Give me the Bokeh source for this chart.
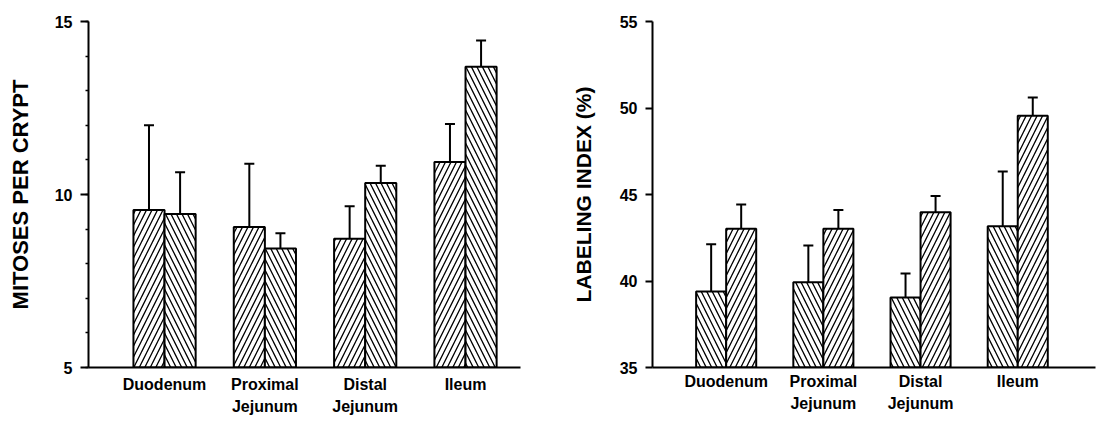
from bokeh.plotting import figure
from bokeh.models import (Range1d, FixedTicker, ColumnDataSource, Whisker, TeeHead,
                          SingleIntervalTicker)
from bokeh.layouts import row
from bokeh.embed import file_html
from bokeh.resources import INLINE

# ---- data ----
categories = ["Duodenum", "Proximal\nJejunum", "Distal\nJejunum", "Ileum"]

mitoses_a = [9.55, 9.06, 8.72, 10.94]
mitoses_a_err = [2.45, 1.83, 0.94, 1.10]
mitoses_b = [9.44, 8.44, 10.33, 13.69]
mitoses_b_err = [1.20, 0.44, 0.50, 0.76]

labeling_a = [39.40, 39.93, 39.05, 43.17]
labeling_a_err = [2.72, 2.12, 1.39, 3.16]
labeling_b = [43.02, 43.02, 43.97, 49.55]
labeling_b_err = [1.40, 1.09, 0.94, 1.05]

left_ticks = [5, 10, 15]
right_ticks = [35, 40, 45, 50, 55]

FONT = "Liberation Sans"


def make_panel(width, height, x_start, x_end, y_start, y_end, border_left, border_top,
               border_bottom, border_right, bar_w, series, hatches, ylabel, major_ticks,
               minor_step, tick_out, ylabel_standoff, ylabel_size, xlabel_standoff):
    p = figure(width=width, height=height, output_backend="svg", toolbar_location=None,
               x_range=Range1d(x_start, x_end), y_range=Range1d(y_start, y_end),
               min_border_left=border_left, min_border_top=border_top,
               min_border_bottom=border_bottom, min_border_right=border_right)
    p.outline_line_color = None
    p.xgrid.visible = False
    p.ygrid.visible = False
    p.background_fill_color = "white"
    p.border_fill_color = "white"

    xs = list(range(1, len(categories) + 1))
    offsets = [-bar_w / 2, bar_w / 2]
    for (vals, errs), hatch, off in zip(series, hatches, offsets):
        src = ColumnDataSource(dict(
            x=[x + off for x in xs],
            top=vals,
            upper=[v + e for v, e in zip(vals, errs)],
            lower=[v - e for v, e in zip(vals, errs)],
        ))
        p.vbar(x="x", top="top", bottom=y_start, width=bar_w, source=src,
               fill_color="white", line_color="black", line_width=2,
               hatch_pattern=hatch, hatch_color="black", hatch_scale=11, hatch_weight=1.3)
        w = Whisker(source=src, base="x", upper="upper", lower="lower",
                    line_color="black", line_width=2,
                    upper_head=TeeHead(size=10, line_width=2, line_color="black"),
                    lower_head=TeeHead(size=10, line_width=2, line_color="black"))
        p.add_layout(w)

    # x axis
    xa = p.xaxis[0]
    xa.ticker = FixedTicker(ticks=xs)
    xa.major_label_overrides = {x: c for x, c in zip(xs, categories)}
    xa.major_tick_line_color = None
    xa.major_tick_out = 0
    xa.major_tick_in = 0
    xa.minor_tick_line_color = None
    xa.minor_tick_out = 0
    xa.axis_line_width = 2
    xa.axis_line_color = "black"
    xa.major_label_text_font = FONT
    xa.major_label_text_font_style = "bold"
    xa.major_label_text_font_size = "16px"
    xa.major_label_text_color = "black"
    xa.major_label_text_line_height = 1.35
    xa.major_label_standoff = xlabel_standoff

    # y axis
    ya = p.yaxis[0]
    if minor_step:
        ya.ticker = SingleIntervalTicker(interval=5, num_minor_ticks=5)
        ya.minor_tick_out = 3
        ya.minor_tick_in = 0
        ya.minor_tick_line_width = 1.5
        ya.minor_tick_line_color = "black"
    else:
        ya.ticker = FixedTicker(ticks=major_ticks)
        ya.minor_tick_line_color = None
    ya.major_tick_out = tick_out
    ya.major_tick_in = 0
    ya.major_tick_line_width = 2
    ya.axis_line_width = 2
    ya.axis_line_color = "black"
    ya.major_label_text_font = FONT
    ya.major_label_text_font_style = "bold"
    ya.major_label_text_font_size = "16px"
    ya.major_label_text_color = "black"
    ya.major_label_standoff = 8
    ya.axis_label = ylabel
    ya.axis_label_text_font = FONT
    ya.axis_label_text_font_style = "bold"
    ya.axis_label_text_font_size = ylabel_size
    ya.axis_label_text_color = "black"
    ya.axis_label_standoff = ylabel_standoff
    return p


left = make_panel(width=530, height=424, x_start=0.242, x_end=4.548, y_start=5, y_end=15,
                  border_left=88, border_top=17, border_bottom=57, border_right=10,
                  bar_w=0.31,
                  series=[(mitoses_a, mitoses_a_err), (mitoses_b, mitoses_b_err)],
                  hatches=["/", "\\"], ylabel="MITOSES PER CRYPT",
                  major_ticks=left_ticks, minor_step=True, tick_out=8, ylabel_standoff=19,
                  ylabel_size="22px", xlabel_standoff=8)

right = make_panel(width=568, height=424, x_start=0.242, x_end=4.80, y_start=35, y_end=55,
                   border_left=122, border_top=21, border_bottom=54, border_right=3,
                   bar_w=0.309,
                   series=[(labeling_a, labeling_a_err), (labeling_b, labeling_b_err)],
                   hatches=["\\", "/"], ylabel="LABELING INDEX (%)",
                   major_ticks=right_ticks, minor_step=False, tick_out=7, ylabel_standoff=22,
                   ylabel_size="21px", xlabel_standoff=5)

layout = row(left, right, spacing=0)
open("out.html", "w").write(file_html(layout, INLINE))
